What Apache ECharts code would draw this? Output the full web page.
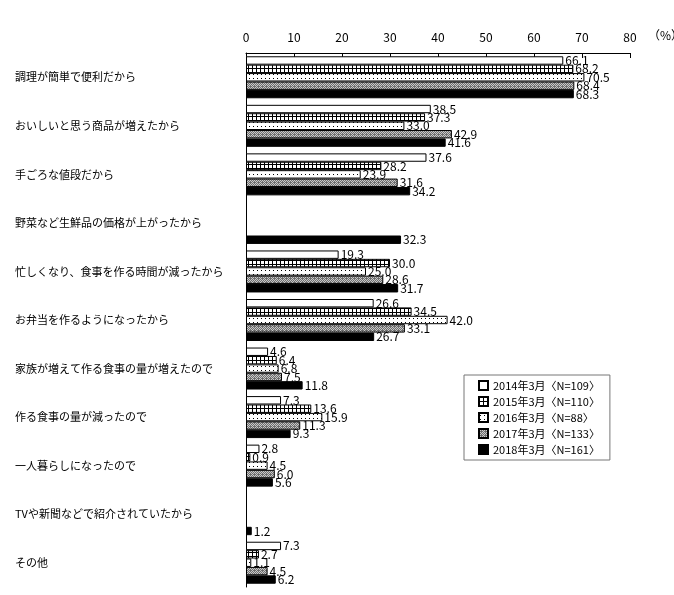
<!DOCTYPE html>
<html>
<head>
<meta charset="utf-8">
<script src="https://cdn.jsdelivr.net/npm/echarts@6/dist/echarts.min.js"></script>
<style>
  html, body { margin: 0; padding: 0; background: #fff; }
  #main { width: 674px; height: 595px; }
</style>
</head>
<body>
<div id="main"></div>
<script>
// 項目
const categories = [
  '調理が簡単で便利だから',
  'おいしいと思う商品が増えたから',
  '手ごろな値段だから',
  '野菜など生鮮品の価格が上がったから',
  '忙しくなり、食事を作る時間が減ったから',
  'お弁当を作るようになったから',
  '家族が増えて作る食事の量が増えたので',
  '作る食事の量が減ったので',
  '一人暮らしになったので',
  'TVや新聞などで紹介されていたから',
  'その他'
];
const seriesNames = [
  '2014年3月〈N=109〉',
  '2015年3月〈N=110〉',
  '2016年3月〈N=88〉',
  '2017年3月〈N=133〉',
  '2018年3月〈N=161〉'
];
const data2014 = [66.1, 38.5, 37.6, null, 19.3, 26.6, 4.6, 7.3, 2.8, null, 7.3];
const data2015 = [68.2, 37.3, 28.2, null, 30.0, 34.5, 6.4, 13.6, 0.9, null, 2.7];
const data2016 = [70.5, 33.0, 23.9, null, 25.0, 42.0, 6.8, 15.9, 4.5, null, 1.1];
const data2017 = [68.4, 42.9, 31.6, null, 28.6, 33.1, 7.5, 11.3, 6.0, null, 4.5];
const data2018 = [68.3, 41.6, 34.2, 32.3, 31.7, 26.7, 11.8, 9.3, 5.6, 1.2, 6.2];
const xTicks = [0, 10, 20, 30, 40, 50, 60, 70, 80];

// 模様
function pattern(kind) {
  const c = document.createElement('canvas');
  c.width = 4; c.height = 4;
  const g = c.getContext('2d');
  g.fillStyle = '#fff';
  g.fillRect(0, 0, 4, 4);
  g.fillStyle = '#000';
  if (kind === 'grid') {
    g.fillRect(0, 0, 4, 1);
    g.fillRect(0, 0, 1, 4);
  } else if (kind === 'dot') {
    g.fillRect(1, 2, 1, 1);
  } else if (kind === 'gray') {
    g.fillStyle = '#6e6e6e';
    g.fillRect(0, 0, 4, 4);
    g.fillStyle = '#c8c8c8';
    g.fillRect(0, 0, 1, 1); g.fillRect(2, 0, 1, 1);
    g.fillRect(1, 1, 1, 1); g.fillRect(3, 1, 1, 1);
    g.fillRect(0, 2, 1, 1); g.fillRect(3, 3, 1, 1);
    g.fillRect(1, 3, 1, 1);
  }
  return { image: c, repeat: 'repeat' };
}
const fills = ['#ffffff', pattern('grid'), pattern('dot'), pattern('gray'), '#000000'];
const allData = [data2014, data2015, data2016, data2017, data2018];

const font = '"Noto Sans CJK JP", sans-serif';
const chart = echarts.init(document.getElementById('main'));
chart.setOption({
  animation: false,
  textStyle: { fontFamily: font },
  grid: { left: 246, right: 44, top: 53, bottom: 8 },
  legend: {
    orient: 'vertical',
    left: 464, top: 375,
    padding: [5, 10, 5, 14],
    itemGap: 5,
    itemWidth: 9, itemHeight: 9,
    itemTextGap: 2,
    icon: 'rect',
    borderColor: '#777', borderWidth: 1,
    textStyle: { fontSize: 11, color: '#000', fontFamily: font },
    data: seriesNames
  },
  xAxis: {
    type: 'value',
    position: 'top',
    min: 0, max: 80, interval: 10,
    axisLine: { show: true, lineStyle: { color: '#000', width: 1 } },
    axisTick: { show: true, inside: true, length: 5, lineStyle: { color: '#000' } },
    splitLine: { show: false },
    axisLabel: {
      color: '#000', fontSize: 12, margin: 10,
      formatter: v => xTicks.includes(v) ? String(v) : ''
    }
  },
  yAxis: {
    type: 'category',
    inverse: true,
    data: categories,
    axisLine: { lineStyle: { color: '#000', width: 1 } },
    axisTick: { inside: true, length: 4, lineStyle: { color: '#000' } },
    axisLabel: { align: 'left', margin: 231, color: '#000', fontSize: 11 }
  },
  graphic: [{
    type: 'text', left: 648, top: 29,
    style: { text: '（%）', fontSize: 12, fill: '#000', fontFamily: font }
  }],
  series: seriesNames.map((name, i) => ({
    name: name,
    type: 'bar',
    data: allData[i],
    barWidth: 8.4,
    barGap: '0%',
    itemStyle: { color: fills[i], borderColor: '#000', borderWidth: 1 },
    label: {
      show: true, position: 'right', distance: 2,
      color: '#000', fontSize: 12, fontFamily: font,
      formatter: p => p.value == null ? '' : Number(p.value).toFixed(1)
    }
  }))
});
</script>
</body>
</html>
